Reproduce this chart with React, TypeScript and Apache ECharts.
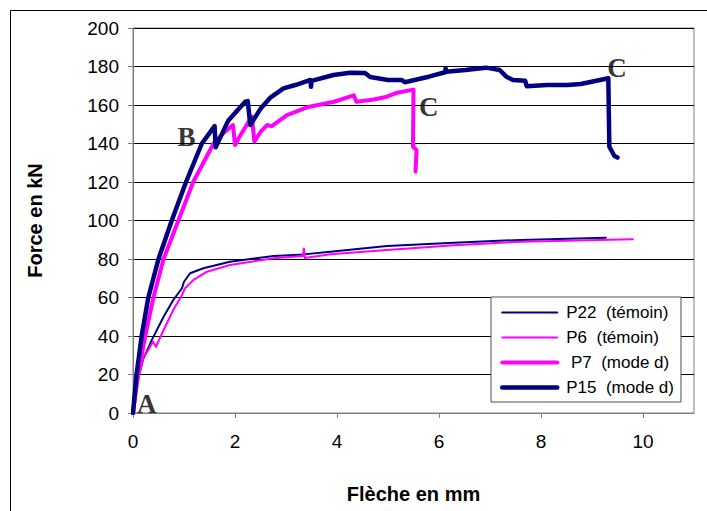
import React, { useEffect, useRef } from "react";
import * as echarts from "echarts";

// Flèche (mm), Force (kN)
const p22: number[][] = [
  [0, 0], [0.08, 16], [0.2, 28], [0.37, 38], [0.6, 50], [0.79, 58.7], [0.96, 64.8], [1.0, 68.2],
  [1.12, 72.6], [1.38, 75.2], [1.9, 78.6], [2.76, 81.6], [3.35, 82.4], [3.87, 83.8], [4.98, 86.8],
  [6.29, 88.5], [7.6, 89.9], [9.27, 91.1],
];
const p6: number[][] = [
  [0, 0], [0.1, 17], [0.2, 28.4], [0.3, 32.7], [0.39, 37], [0.45, 34.4], [0.6, 43.1], [0.79, 53.5],
  [0.96, 61.3], [1.02, 64.8], [1.18, 69], [1.45, 73.4], [1.9, 76.9], [2.76, 80.4], [3.33, 81.5],
  [3.35, 85.5], [3.37, 80.5], [3.87, 82.5], [4.98, 84.7], [6.29, 87.2], [7.6, 89], [9.8, 90.2],
];
const p7: number[][] = [
  [0, 0], [0.1, 20], [0.24, 40], [0.4, 60], [0.6, 80], [0.89, 100], [1.18, 120], [1.58, 140],
  [1.77, 145.3], [1.96, 149.6], [2.0, 139.2], [2.1, 144], [2.23, 149.6], [2.33, 154], [2.38, 141],
  [2.5, 146], [2.63, 149.6], [2.72, 149], [3.02, 154.8], [3.41, 158.8], [3.94, 161.7], [4.33, 165],
  [4.38, 161.7], [4.72, 162.9], [4.98, 164.3], [5.18, 166.4], [5.5, 168], [5.49, 138.3],
  [5.56, 136.6], [5.54, 125.4],
];
const p15: number[][] = [
  [0, 0], [0.07, 20], [0.17, 40], [0.3, 60], [0.5, 80], [0.76, 100], [1.04, 120], [1.35, 140],
  [1.6, 149], [1.62, 138], [1.87, 152], [2.2, 161.7], [2.25, 162], [2.3, 149.6], [2.5, 158],
  [2.7, 164], [2.95, 168.6], [3.2, 170.5], [3.48, 173], [3.49, 169.5], [3.5, 172.5], [3.93, 175.6],
  [4.26, 176.8], [4.55, 176.6], [4.65, 174.5], [5.0, 173], [5.27, 173], [5.33, 171.8], [5.8, 174.7],
  [6.12, 177], [6.13, 179], [6.14, 177.3], [6.52, 178.2], [6.92, 179.4], [7.19, 178.2], [7.32, 174.7],
  [7.45, 173], [7.69, 172.6], [7.72, 169.8], [8.12, 170.4], [8.52, 170.4], [8.78, 170.9],
  [9.32, 173.9], [9.34, 138.3], [9.44, 133.5], [9.5, 132.7],
];
const annotations: (number | string)[][] = [
  [0.27, 4.7, "A"], [1.05, 143.2, "B"], [5.8, 159.1, "C"], [9.49, 179, "C"],
];
const seriesNames = ["P22  (témoin)", "P6  (témoin)", " P7  (mode d)", "P15  (mode d)"];
const xTicks = [0, 2, 4, 6, 8, 10];

const NAVY = "#000080";
const MAGENTA = "#FF00FF";
const FONT = "Liberation Sans, Arial, sans-serif";

export default function App() {
  const ref = useRef<HTMLDivElement>(null);
  useEffect(() => {
    if (!ref.current) return;
    const chart = echarts.init(ref.current, null, { renderer: "svg" });
    const styles = [
      { name: seriesNames[0], data: p22, color: NAVY, width: 2 },
      { name: seriesNames[1], data: p6, color: MAGENTA, width: 2 },
      { name: seriesNames[2], data: p7, color: MAGENTA, width: 4 },
      { name: seriesNames[3], data: p15, color: NAVY, width: 4.5 },
    ];
    chart.setOption({
      animation: false,
      backgroundColor: "#ffffff",
      graphic: [
        {
          type: "rect",
          shape: { x: 10.5, y: 10.5, width: 720, height: 540 },
          style: { fill: "none", stroke: "#000", lineWidth: 1 },
          silent: true,
          z: 100,
        },
      ],
      grid: {
        left: 133,
        top: 28,
        right: 13,
        bottom: 98,
        show: true,
        borderColor: "#808080",
        borderWidth: 1,
        backgroundColor: "#ffffff",
      },
      legend: {
        orient: "vertical",
        left: 491,
        top: 297,
        data: styles.map((s) => ({
          name: s.name,
          itemStyle: { color: "rgba(0,0,0,0)", borderWidth: 0, opacity: 0 },
          lineStyle: { color: s.color, width: s.width, opacity: 1 },
        })),
        itemWidth: 55,
        itemHeight: 14,
        itemGap: 8,
        padding: [7, 7, 6, 9],
        backgroundColor: "#ffffff",
        borderColor: "#505050",
        borderWidth: 1,
        borderRadius: 0,
        textStyle: { fontFamily: FONT, fontSize: 17, color: "#000", padding: [0, 0, 0, 4] },
        selectedMode: false,
      },
      xAxis: {
        type: "value",
        min: 0,
        max: 11,
        interval: 2,
        name: "Flèche en mm",
        nameLocation: "middle",
        nameGap: 71,
        nameTextStyle: { fontFamily: FONT, fontSize: 20, fontWeight: "bold", color: "#000" },
        axisLine: { show: true, lineStyle: { color: "#808080", width: 1 } },
        axisTick: { show: true, inside: false, length: 5, lineStyle: { color: "#808080" }, customValues: xTicks },
        axisLabel: { fontFamily: FONT, fontSize: 19, color: "#000", margin: 19, customValues: xTicks },
        splitLine: { show: false },
      },
      yAxis: {
        type: "value",
        min: 0,
        max: 200,
        interval: 20,
        name: "Force en kN",
        nameLocation: "middle",
        nameGap: 88,
        nameTextStyle: { fontFamily: FONT, fontSize: 20, fontWeight: "bold", color: "#000" },
        axisLine: { show: true, lineStyle: { color: "#808080", width: 1 } },
        axisTick: { show: true, inside: false, length: 5, lineStyle: { color: "#808080" } },
        axisLabel: { fontFamily: FONT, fontSize: 19, color: "#000", margin: 14 },
        splitLine: { show: true, lineStyle: { color: "#000", width: 1 } },
      },
      series: [
        ...styles.map((s) => ({
          type: "line",
          name: s.name,
          data: s.data,
          symbol: "none",
          showSymbol: false,
          color: s.color,
          lineStyle: { color: s.color, width: s.width, join: "round", cap: "round" },
          silent: true,
        })),
        {
          type: "scatter",
          name: "annotations",
          data: annotations.map((a) => ({ value: [a[0], a[1]], name: a[2] })),
          symbolSize: 0,
          silent: true,
          z: 10,
          label: {
            show: true,
            position: "inside",
            formatter: (p: any) => p.name,
            fontFamily: "Liberation Serif, Times New Roman, serif",
            fontWeight: "bold",
            fontSize: 27,
            color: "#000",
          },
        },
      ],
    });
    return () => chart.dispose();
  }, []);
  return (
    <div
      ref={ref}
      style={{ position: "fixed", left: 0, top: 0, width: 707, height: 511, background: "#fff" }}
    />
  );
}
